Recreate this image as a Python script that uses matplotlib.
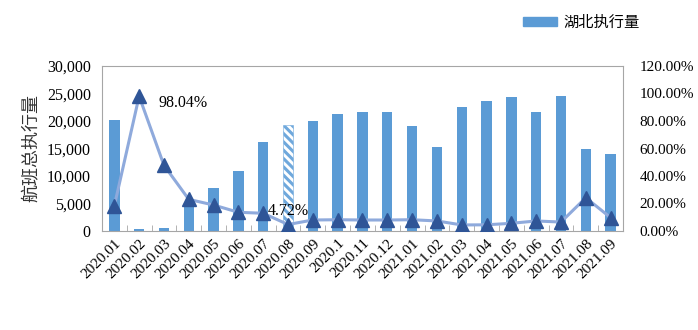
import matplotlib
matplotlib.use("Agg")
import matplotlib.pyplot as plt
import numpy as np
from matplotlib.patches import Patch

categories = ["2020.01", "2020.02", "2020.03", "2020.04", "2020.05", "2020.06", "2020.07",
              "2020.08", "2020.09", "2020.1", "2020.11", "2020.12", "2021.01", "2021.02",
              "2021.03", "2021.04", "2021.05", "2021.06", "2021.07", "2021.08", "2021.09"]
flights = [20200, 400, 600, 4600, 7900, 10900, 16200, 19200, 20000, 21300, 21600, 21600,
           19000, 15200, 22600, 23700, 24400, 21600, 24500, 15000, 14000]
ratio = [18.2, 98.04, 47.8, 23.0, 18.9, 13.6, 12.9, 4.72, 8.0, 8.2, 8.0, 8.0, 8.2, 7.3,
         4.4, 4.5, 5.6, 7.3, 6.5, 24.2, 9.7]
hatched_index = 7
left_ticks = [0, 5000, 10000, 15000, 20000, 25000, 30000]
right_ticks = [0, 20, 40, 60, 80, 100, 120]

serif = ["Liberation Serif", "DejaVu Serif"]
cjk = ["Noto Sans CJK SC", "DejaVu Sans"]
plt.rcParams['hatch.linewidth'] = 2.2

fig = plt.figure(figsize=(6.98, 3.30), dpi=100)
ax = fig.add_axes([0.146, 0.30, 0.7466, 0.50])
x = np.arange(len(categories))
bar_color = "#5B9BD5"
bars = ax.bar(x, flights, width=0.42, color=bar_color, zorder=2)
b = bars[hatched_index]
b.set_facecolor("white")
b.set_edgecolor("#6FA8DC")
b.set_hatch("\\\\\\\\")
b.set_linewidth(0.4)

ax.set_xlim(-0.5, len(categories) - 0.5)
ax.set_ylim(0, 30000)
ax.set_yticks(left_ticks)
ax.set_yticklabels([f"{v:,}" for v in left_ticks], fontfamily=serif, fontsize=11.5)
ax.set_xticks(x)
ax.set_xticklabels(categories, rotation=45, ha="right", rotation_mode="anchor",
                   fontfamily=serif, fontsize=11)
ax.tick_params(axis="x", length=0, pad=4)
ax.set_xticks(np.arange(-0.5, len(categories), 1), minor=True)
ax.tick_params(axis="x", which="minor", direction="in", length=4, color="#A6A6A6")
ax.tick_params(axis="y", length=0, pad=8)
for s in ax.spines.values():
    s.set_color("#A6A6A6")
    s.set_linewidth(0.8)
ax.set_ylabel("航班总执行量", fontfamily=cjk, fontsize=13, color="#333333", labelpad=4)

ax2 = ax.twinx()
ax2.plot(x, ratio, color="#8FAADC", linewidth=2.2, marker="^", markersize=10,
         markerfacecolor="#2F5597", markeredgecolor="#2F5597", zorder=3)
ax2.set_ylim(0, 120)
ax2.set_yticks(right_ticks)
ax2.set_yticklabels([f"{v:.2f}%" for v in right_ticks], fontfamily=serif, fontsize=11)
ax2.tick_params(axis="y", length=0, pad=12)
for s in ax2.spines.values():
    s.set_visible(False)

ax2.annotate(f"{ratio[1]:.2f}%", (x[1], ratio[1]), xytext=(14, -5), textcoords="offset points",
             fontfamily=serif, fontsize=11.5, va="center", ha="left")
ax2.annotate(f"{ratio[7]:.2f}%", (x[7], ratio[7]), xytext=(0, 10), textcoords="offset points",
             fontfamily=serif, fontsize=11.5, va="center", ha="center")

fig.legend(handles=[Patch(color=bar_color)], labels=["湖北执行量"], loc="upper left",
           bbox_to_anchor=(0.73, 1.0), frameon=False, prop={"family": cjk, "size": 11},
           handlelength=2.2, handleheight=0.6, handletextpad=0.4)

fig.savefig("out.png", dpi=100)
